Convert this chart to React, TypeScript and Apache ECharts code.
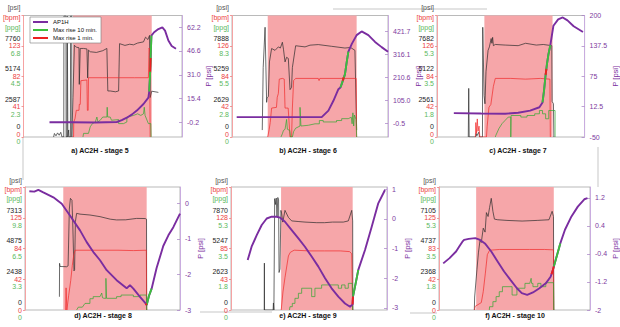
import React, { useEffect, useRef } from 'react';
import * as echarts from 'echarts';

// ---------- Stage 5 (a) ----------
const stage5Window = [31.2, 80.9];
const stage5Pressure = [[19,0],[19.5,300],[20.5,100],[21.5,350],[22.5,150],[23.5,400],[24.3,0],[25.4,0],[25.5,10300],[26.8,10300],[26.9,0],[27.5,0],[27.6,10300],[28,0],[28.5,600],[28.7,0],[29.6,0],[29.7,10300],[30.4,10300],[30.5,0],[30.8,0],[31.2,3360],[32.1,7815],[33.3,7650],[35,7600],[35.2,4480],[35.8,7540],[37.9,7540],[40,7500],[40.5,5030],[41,7400],[42.1,7260],[46,7200],[50,7350],[52.6,7540],[53.2,3920],[54.7,3920],[58,3850],[60,3920],[60.6,7950],[64,7800],[67,7900],[69.4,7850],[72,8000],[75.7,8100],[77,8500],[78.5,8300],[79.5,8650],[79.9,3360],[80.9,3900],[85.1,3800]];
const stage5Rate = [[31,0],[31.6,0],[31.7,20],[32.5,25],[33.3,36],[35,36],[35.2,44],[35.8,44],[36.2,76],[40,77],[40.3,36],[40.8,36],[41,80],[50,80],[60,80],[70,80],[78.8,80],[79.2,120],[79.6,118],[79.9,0]];
const stage5Conc = [[37.5,0],[37.9,0.27],[41,0.27],[42.1,0.76],[43.5,1.0],[45.3,1.12],[46.3,1.49],[47,1.12],[48.4,1.25],[50,1.49],[52.6,1.49],[52.8,2.22],[53.1,1.49],[54.7,1.49],[55.5,1.25],[60,1.3],[60,1.0],[63.1,1.0],[65.2,1.12],[65.2,1.49],[69.4,1.61],[72,1.73],[74,1.61],[75.7,1.73],[76.2,2.22],[76.7,1.61],[78.8,1.0],[80.3,1.0],[80.5,0]];
const stage5AP1H = [[16.4,-0.2],[30,-0.2],[45,-0.3],[58.9,0],[62,1.2],[65.2,2.8],[68.5,5],[71.5,7.5],[75.7,11.8],[78.8,16],[79.3,20],[79.8,30],[80.3,45],[80.7,56.7],[82.4,58.9],[85.1,61],[87.6,62.1],[89.3,60],[91.4,53.5],[93.5,49.9],[96.2,48.1]];
const stage5Rise10 = [[79.3,20],[79.8,30],[80.3,45],[80.7,56.7]];
const stage5Rise1 = [[79.9,33],[80.2,42]];
const stage5PsiTicks = ['0','2587','5174','7760'];
const stage5BpmTicks = ['0','41','82','123'];
const stage5PpgTicks = ['0','2.3','4.5','6.8'];
const stage5PTicks = ['-0.2','15.4','31.0','46.6','62.2'];
const stage5PRange = [-9.85, 69.9];

// ---------- Stage 6 (b) ----------
const stage6Window = [22.9, 79.9];
const stage6Pressure = [[19.4,600],[20,6000],[21.2,9500],[22.2,3000],[22.5,3400],[23.3,3500],[24,6500],[25.4,7660],[27.6,7500],[29.7,7800],[31,7700],[32.3,8200],[33,7600],[34,6500],[35,6900],[36.1,6800],[37.2,4100],[38.2,4300],[38.7,6000],[40.8,7900],[46.8,7800],[50,7950],[55.3,8000],[63.9,7850],[72.4,7700],[76,7750],[78.8,7500],[79.9,600]];
const stage6Rate = [[22.9,0],[23.8,10],[24.5,20],[25.4,40],[28.5,41],[29,55],[29.7,60],[30.3,80],[32.3,81],[33.5,80],[34,40],[36,40],[37.2,0],[38.2,0],[38.7,40],[39.5,78],[40.8,81],[55.3,81],[55.8,78],[56.3,81],[79.6,81],[79.9,0]];
const stage6Conc = [[31.4,0],[32.3,0.3],[33,0.6],[34,0.7],[35,1.6],[35.5,0.7],[37,0.6],[37.5,0],[38.7,0],[39.5,0.5],[40.8,0.8],[43.6,1.0],[43.6,2.7],[44.2,1.0],[49,1.07],[53.2,1.2],[56,1.2],[56,1.5],[58.5,1.5],[58.5,1.37],[67,1.37],[67,1.5],[70.3,1.5],[70.3,1.67],[74.5,1.67],[76.5,1.8],[77,1.2],[77.5,2.2],[78,1.0],[78.5,2.0],[79.5,1.6],[79.9,0]];
const stage6AP1H = [[3,29],[57.5,29],[61.8,59],[65,104],[68.2,157],[69.5,165],[70.3,180],[71.2,200],[72.4,225],[73.5,280],[74.6,329],[76.8,365],[79.9,405],[83.1,422],[87.4,405],[91.7,374],[95.9,350],[100,329]];
const stage6Rise10 = [[69.5,165],[70.3,180],[71.2,200],[72.4,225],[73.5,280],[74.6,329]];
const stage6Rise1 = [[71.0,196],[71.6,212]];
const stage6PsiTicks = ['0','2629','5259','7888'];
const stage6BpmTicks = ['0','42','84','126'];
const stage6PpgTicks = ['0','2.8','5.5','8.3'];
const stage6PTicks = ['-0.5','105.0','210.6','316.1','421.7'];
const stage6PRange = [-62, 495];

// ---------- Stage 7 (c) ----------
const stage7Window = [32.1, 78.3];
const stage7Pressure = [[21.2,0],[21.5,4100],[21.8,0],[26.2,0],[26.5,300],[27,100],[28.3,400],[28.8,0],[30.8,0],[31,9250],[31.9,3500],[32.5,2800],[33.2,5500],[34.6,7300],[35.5,7600],[36.7,8300],[37.2,7900],[37.7,8400],[38.2,7700],[39.5,7800],[46.2,7750],[55,7700],[60,7900],[67.3,7750],[72,7800],[77.8,7700],[78,3000],[78.9,2800],[79.2,0]];
const stage7Rate = [[26,0],[26.3,20],[26.8,5],[27.3,25],[27.8,8],[28.5,15],[29,0],[33.5,0],[34,15],[35.2,41],[36.5,45],[38.2,70],[39.5,81],[50,81],[60,80],[70,81],[76.5,80],[76.8,0]];
const stage7Conc = [[39.5,0],[39.9,0.1],[42,0.5],[44.1,0.78],[46.2,0.97],[48.3,1.16],[50,1.16],[50,0],[50.2,1.25],[56.8,1.25],[56.8,1.16],[61,1.16],[61,1.25],[66.2,1.25],[66.2,1.35],[69.4,1.35],[69.4,1.54],[71.5,1.54],[71.5,1.35],[73.6,1.35],[73.6,1.06],[75.7,1.06],[75.7,1.54],[80,1.54],[80,0]];
const stage7AP1H = [[11.4,-0.9],[30,-1.8],[46.2,-2.3],[55,0],[63.1,4.4],[69.4,11.2],[71.5,21],[72.5,45],[73.5,75],[74.5,100],[75.5,120],[76.8,139],[78.9,179],[82.1,192],[85.2,196],[88.4,190],[92.6,178],[98.9,166]];
const stage7Rise10 = [[71.5,21],[72.5,45],[73.5,75],[74.5,100],[75.5,120],[76.8,139]];
const stage7Rise1 = [[73.6,78],[74.1,90]];
const stage7PsiTicks = ['0','2561','5122','7682'];
const stage7BpmTicks = ['0','42','84','126'];
const stage7PpgTicks = ['0','1.8','3.5','5.3'];
const stage7PTicks = ['-50','12.5','75','137.5','200'];
const stage7PRange = [-50, 200];

// ---------- Stage 8 (d) ----------
const stage8Window = [24.7, 78.5];
const stage8Pressure = [[22.2,1050],[22.3,3700],[22.6,3450],[26.9,3430],[27.8,3500],[28.6,8000],[29.3,8850],[30.3,8700],[30.8,6900],[31.6,3100],[32,3200],[32.5,7000],[33.3,7660],[35.5,7600],[41.9,7530],[48.4,7400],[55,7200],[59.1,7140],[65,7150],[72,7260],[77.5,7250],[78.4,7200],[78.5,0]];
const stage8Rate = [[26.2,0],[26.5,30],[27,0],[28.2,20],[29.5,40],[30.5,60],[31.5,75],[32.3,81],[40,81],[60,81],[70,80.5],[78.3,81],[78.5,0]];
const stage8Conc = [[33.3,0],[34.4,0.3],[37,0.3],[38.7,0.7],[41.9,0.7],[41.9,1.2],[44,1.2],[44,1.42],[48.4,1.42],[49.5,1.8],[50,1.3],[51,1.24],[52.2,1.24],[52.2,3.36],[52.6,1.24],[59.1,1.24],[59.1,1.42],[62,1.42],[62,1.59],[69.9,1.59],[69.9,1.42],[74.2,1.42],[74.2,1.59],[78.3,1.59],[78.5,0]];
const stage8AP1H = [[2.8,0.34],[6,0.33],[8.6,0.38],[11.8,0.31],[18.3,0.17],[23.7,-0.01],[29,-0.34],[35.5,-0.76],[39.8,-1.09],[44.1,-1.37],[48.4,-1.6],[52.7,-1.88],[59.1,-2.16],[65.6,-2.39],[67.7,-2.3],[69.9,-2.4],[74.2,-2.63],[78.1,-2.83],[78.5,-2.86],[80,-2.6],[81.7,-2.4],[84.9,-1.82],[89.2,-1.2],[92.5,-0.9],[95.7,-0.67],[100,-0.29]];
const stage8Rise10 = [[78.5,-2.86],[80,-2.6],[81.7,-2.4]];
const stage8Rise1 = [[77.8,-2.82],[78.5,-2.86]];
const stage8PsiTicks = ['0','2438','4875','7313'];
const stage8BpmTicks = ['0','42','84','125'];
const stage8PpgTicks = ['0','3.3','6.5','9.8'];
const stage8PTicks = ['-3','-2','-1','0'];
const stage8PRange = [-3, 0.46];

// ---------- Stage 9 (e) ----------
const stage9Window = [32.1, 78];
const stage9Pressure = [[21.3,0],[21.4,4000],[21.5,0],[27,0],[27.2,600],[27.5,0],[27.8,0],[28,9500],[28.5,9000],[29,9550],[29.5,8000],[30,9600],[30.5,9400],[30.8,3200],[31.4,3500],[32,8500],[32.5,8200],[33.2,7500],[34.6,8500],[36.8,7900],[38.9,7600],[43,7550],[47.4,7500],[55,7450],[60,7450],[65,7500],[72,7500],[75.2,7600],[77.4,8500],[78,7600],[78.1,0]];
const stage9Rate = [[32.2,0],[33.3,25],[34.6,45],[36.8,75],[38,80],[40.5,83],[50,82],[60,82],[70,82],[76,81],[77.4,78],[78,0]];
const stage9Conc = [[37.5,0],[37.8,0.19],[39.3,0.19],[39.3,0.38],[41,0.38],[41,0.67],[43.2,0.67],[43.2,0.96],[45.3,0.96],[45.3,1.25],[51.7,1.25],[51.7,0.77],[53.8,0.77],[53.8,1.25],[58.1,1.25],[58.1,1.44],[68.8,1.44],[68.8,1.25],[70.9,1.25],[70.9,1.44],[73.1,1.44],[73.1,1.25],[75.2,1.25],[75.2,1.53],[77.8,1.53],[78,0]];
const stage9AP1H = [[10.7,-1.39],[13.2,-0.94],[16.5,-0.55],[19.7,-0.21],[22.9,0.01],[26.1,0.07],[29.3,0.07],[31.4,0.04],[34.6,-0.1],[38.9,-0.38],[43.2,-0.66],[47.4,-0.94],[51.7,-1.27],[56,-1.61],[60.3,-2.0],[64.5,-2.34],[68.8,-2.62],[73.1,-2.85],[76.3,-2.96],[77.9,-2.88],[78.2,-2.62],[80,-2.15],[81.6,-1.72],[85.9,-1.05],[90.2,-0.27],[94.4,0.52],[98.7,0.97]];
const stage9Rise10 = [[78.2,-2.62],[80,-2.15],[81.6,-1.72]];
const stage9Rise1 = [[77.9,-2.88],[78.2,-2.62]];
const stage9PsiTicks = ['0','2623','5247','7870'];
const stage9BpmTicks = ['0','43','85','128'];
const stage9PpgTicks = ['0','1.8','3.5','5.3'];
const stage9PTicks = ['-3','-2','-1','0','1'];
const stage9PRange = [-3.07, 1.07];

// ---------- Stage 10 (f) ----------
const stage10Window = [24.6, 76];
const stage10Pressure = [[23.4,0],[23.6,1000],[25.1,3100],[26.1,4400],[27.2,5400],[28,5200],[29.3,6300],[30.5,6000],[31.4,7500],[32.5,7200],[33.5,7900],[34.6,8600],[35.7,7600],[36.7,7000],[38.9,6950],[45,6900],[55,6850],[65,6900],[72.8,6950],[74.9,7600],[75.8,7200],[76,0]];
const stage10Rate = [[23.5,0],[24,5],[28,10],[29.3,25],[30.7,50],[32,75],[33.5,81],[40,82],[60,82],[70,82],[75.8,81.5],[76,0]];
const stage10Conc = [[33.3,0],[33.5,0.19],[35.7,0.19],[35.7,0.48],[37.8,0.48],[37.8,0.77],[39.9,0.77],[39.9,1.05],[42,1.05],[42,1.34],[48.4,1.34],[48.4,0.86],[51.6,0.86],[51.6,1.25],[56.9,1.25],[56.9,1.53],[60.1,1.53],[61,1.82],[61.3,1.53],[62.2,1.53],[62.2,1.34],[65.4,1.34],[65.4,1.53],[67.5,1.53],[67.5,1.34],[70.7,1.34],[70.7,1.57],[75.8,1.57],[76,0]];
const stage10AP1H = [[2.8,-0.67],[7,-0.52],[11.3,-0.33],[13.4,-0.19],[15.5,-0.05],[16.6,0],[19.7,0.03],[24,0.05],[27.2,0],[30.4,-0.1],[34.6,-0.33],[38.9,-0.62],[43.1,-0.9],[47.3,-1.14],[51.6,-1.38],[54.8,-1.52],[58.4,-1.57],[62.2,-1.5],[66.5,-1.38],[70.7,-1.24],[73.9,-1.05],[75.4,-0.86],[76.6,-0.67],[78.5,-0.38],[80.3,-0.1],[83.4,0.29],[87.7,0.67],[91.9,0.95],[96.2,1.16],[98.3,1.19]];
const stage10Rise10 = [[76,-0.76],[76.6,-0.67],[78.5,-0.38],[80.3,-0.1]];
const stage10Rise1 = [[74.5,-0.98],[75.4,-0.86],[76,-0.76]];
const stage10PsiTicks = ['0','2368','4737','7105'];
const stage10BpmTicks = ['0','42','83','125'];
const stage10PpgTicks = ['0','1.8','3.5','5.3'];
const stage10PTicks = ['-2','-1.2','-0.4','0.4','1.2'];
const stage10PRange = [-2, 1.51];

const FONT = '"Liberation Sans", Arial, Helvetica, sans-serif';
const PURPLE = '#7a2da0';
const PINK = '#f6a6a9';

const panels = [
  { title: 'a) AC2H - stage 5', row: 0, grid: { left: 23, top: 13, width: 159, height: 124 }, tx: 100, ty: 150,
    win: stage5Window, psi: stage5Pressure, bpm: stage5Rate, ppg: stage5Conc, p: stage5AP1H, r10: stage5Rise10, r1: stage5Rise1,
    psiT: stage5PsiTicks, bpmT: stage5BpmTicks, ppgT: stage5PpgTicks, pT: stage5PTicks, pR: stage5PRange },
  { title: 'b) AC2H - stage 6', row: 0, grid: { left: 232, top: 13, width: 156, height: 124 }, tx: 308, ty: 150,
    win: stage6Window, psi: stage6Pressure, bpm: stage6Rate, ppg: stage6Conc, p: stage6AP1H, r10: stage6Rise10, r1: stage6Rise1,
    psiT: stage6PsiTicks, bpmT: stage6BpmTicks, ppgT: stage6PpgTicks, pT: stage6PTicks, pR: stage6PRange },
  { title: 'c) AC2H - stage 7', row: 0, grid: { left: 437, top: 13, width: 158, height: 124 }, tx: 518, ty: 150,
    win: stage7Window, psi: stage7Pressure, bpm: stage7Rate, ppg: stage7Conc, p: stage7AP1H, r10: stage7Rise10, r1: stage7Rise1,
    psiT: stage7PsiTicks, bpmT: stage7BpmTicks, ppgT: stage7PpgTicks, pT: stage7PTicks, pR: stage7PRange },
  { title: 'd) AC2H - stage 8', row: 1, grid: { left: 25, top: 187, width: 155, height: 123 }, tx: 103, ty: 315,
    win: stage8Window, psi: stage8Pressure, bpm: stage8Rate, ppg: stage8Conc, p: stage8AP1H, r10: stage8Rise10, r1: stage8Rise1,
    psiT: stage8PsiTicks, bpmT: stage8BpmTicks, ppgT: stage8PpgTicks, pT: stage8PTicks, pR: stage8PRange },
  { title: 'e) AC2H - stage 9', row: 1, grid: { left: 231, top: 187, width: 156, height: 123 }, tx: 308, ty: 315,
    win: stage9Window, psi: stage9Pressure, bpm: stage9Rate, ppg: stage9Conc, p: stage9AP1H, r10: stage9Rise10, r1: stage9Rise1,
    psiT: stage9PsiTicks, bpmT: stage9BpmTicks, ppgT: stage9PpgTicks, pT: stage9PTicks, pR: stage9PRange },
  { title: 'f) AC2H - stage 10', row: 1, grid: { left: 439, top: 187, width: 157, height: 123 }, tx: 515, ty: 315,
    win: stage10Window, psi: stage10Pressure, bpm: stage10Rate, ppg: stage10Conc, p: stage10AP1H, r10: stage10Rise10, r1: stage10Rise1,
    psiT: stage10PsiTicks, bpmT: stage10BpmTicks, ppgT: stage10PpgTicks, pT: stage10PTicks, pR: stage10PRange },
];

function buildOption() {
  const grid: any[] = [];
  const xAxis: any[] = [];
  const yAxis: any[] = [];
  const series: any[] = [];
  const graphic: any[] = [];

  panels.forEach((pn, gi) => {
    grid.push({ ...pn.grid, show: true, borderColor: '#9c9c9c', borderWidth: 0.7, backgroundColor: 'transparent' });
    xAxis.push({ gridIndex: gi, type: 'value', min: 0, max: 100, show: false });
    const bpmMax = Number(pn.bpmT[3]) * 4 / 3;
    const bpmStep = bpmMax / 4;
    const psiMax = Number(pn.psiT[3]) * 4 / 3;
    const ppgMax = Number(pn.ppgT[3]) * 4 / 3;
    const base = gi * 4;
    const hdrLH = pn.row === 0 ? 10 : 9;
    yAxis.push({
      gridIndex: gi, type: 'value', position: 'left', min: 0, max: bpmMax, interval: bpmStep,
      axisLine: { show: true, lineStyle: { color: '#f5a3a3', width: 1 } },
      axisTick: { show: true, length: 2, lineStyle: { color: '#ee7070', width: 0.7 } },
      splitLine: { show: false },
      axisLabel: {
        show: true, margin: 3, showMinLabel: true, showMaxLabel: true,
        formatter: (v: number) => {
          const i = Math.round(v / bpmStep);
          if (i >= 4) return '{sp| }\n{kh|[psi]}\n{rh|[bpm]}\n{gh|[ppg]}';
          const body = `{k|${pn.psiT[i]}}\n{r|${pn.bpmT[i]}}\n{g|${pn.ppgT[i]}}`;
          return i === 0 && pn.row === 0 ? body + '\n{sb| }' : body;
        },
        rich: {
          k: { color: '#1e1e1e', fontSize: 7, lineHeight: 7.6, fontFamily: FONT, align: 'right' },
          r: { color: '#ec3e3e', fontSize: 7, lineHeight: 7.6, fontFamily: FONT, align: 'right' },
          g: { color: '#5cb85c', fontSize: 7, lineHeight: 7.6, fontFamily: FONT, align: 'right' },
          kh: { color: '#555', fontSize: 7, lineHeight: hdrLH, fontFamily: FONT, align: 'right' },
          rh: { color: '#ec3e3e', fontSize: 7, lineHeight: hdrLH, fontFamily: FONT, align: 'right' },
          gh: { color: '#5cb85c', fontSize: 7, lineHeight: hdrLH, fontFamily: FONT, align: 'right' },
          sp: { fontSize: 1, lineHeight: 4 },
          sb: { fontSize: 1, lineHeight: 6 },
        },
      },
    });
    yAxis.push({ gridIndex: gi, type: 'value', min: 0, max: psiMax, show: false });
    yAxis.push({ gridIndex: gi, type: 'value', min: 0, max: ppgMax, show: false });
    const pVals = pn.pT.map(Number);
    yAxis.push({
      gridIndex: gi, type: 'value', position: 'right', min: pn.pR[0], max: pn.pR[1],
      name: 'P [psi]', nameLocation: 'middle', nameRotate: 90, nameGap: 16,
      nameTextStyle: { color: PURPLE, fontSize: 7.5, fontFamily: FONT },
      axisLine: { show: true, lineStyle: { color: '#c9acdf', width: 1 } },
      axisTick: { show: true, inside: true, length: 3, customValues: pVals, lineStyle: { color: '#a57cc4', width: 0.7 } },
      splitLine: { show: false },
      axisLabel: {
        show: true, margin: 5, customValues: pVals, color: '#7d3a9e', fontSize: 7, fontFamily: FONT,
        formatter: (v: number) => {
          let best = 0;
          pVals.forEach((pv, k) => { if (Math.abs(pv - v) < Math.abs(pVals[best] - v)) best = k; });
          return pn.pT[best];
        },
      },
    });

    series.push({
      type: 'line', name: 'psi' + gi, xAxisIndex: gi, yAxisIndex: base + 1, data: pn.psi, symbol: 'none',
      lineStyle: { color: '#2b2b2b', width: 0.7 }, silent: true,
      markArea: { silent: true, itemStyle: { color: PINK }, data: [[{ xAxis: pn.win[0] }, { xAxis: pn.win[1] }]] },
    });
    series.push({ type: 'line', name: 'bpm' + gi, xAxisIndex: gi, yAxisIndex: base, data: pn.bpm, symbol: 'none', lineStyle: { color: '#f02a2a', width: 0.7 }, silent: true });
    series.push({ type: 'line', name: 'ppg' + gi, xAxisIndex: gi, yAxisIndex: base + 2, data: pn.ppg, symbol: 'none', lineStyle: { color: '#30a830', width: 0.7 }, silent: true });
    series.push({ type: 'line', name: 'AP1H', xAxisIndex: gi, yAxisIndex: base + 3, data: pn.p, symbol: 'none', lineStyle: { color: PURPLE, width: 1.9 }, itemStyle: { color: PURPLE }, silent: true });
    series.push({ type: 'line', name: 'Max rise 10 min.', xAxisIndex: gi, yAxisIndex: base + 3, data: pn.r10, symbol: 'none', lineStyle: { color: '#3cbf3c', width: 1.9 }, itemStyle: { color: '#3cbf3c' }, silent: true });
    series.push({ type: 'line', name: 'Max rise 1 min.', xAxisIndex: gi, yAxisIndex: base + 3, data: pn.r1, symbol: 'none', lineStyle: { color: '#ec2020', width: 1.9 }, itemStyle: { color: '#ec2020' }, silent: true });

    graphic.push({
      type: 'text', x: pn.tx, y: pn.ty,
      style: { text: pn.title, fontSize: 7, fontWeight: 'bold', fontFamily: FONT, fill: '#111', align: 'center', verticalAlign: 'middle', textAlign: 'center', textVerticalAlign: 'middle' },
    });
  });

  const stroke = { stroke: '#b0b0b0', lineWidth: 0.7 };
  graphic.push({ type: 'line', shape: { x1: 23, y1: 137, x2: 23, y2: 180 }, style: stroke });
  graphic.push({ type: 'line', shape: { x1: 333, y1: 9, x2: 487, y2: 9 }, style: stroke });
  graphic.push({ type: 'line', shape: { x1: 598, y1: 147, x2: 598, y2: 187 }, style: stroke });
  graphic.push({ type: 'line', shape: { x1: 200, y1: 312, x2: 272, y2: 312 }, style: stroke });
  graphic.push({ type: 'line', shape: { x1: 410, y1: 313, x2: 437, y2: 313 }, style: stroke });

  return {
    animation: false,
    backgroundColor: '#ffffff',
    grid, xAxis, yAxis, series, graphic,
    legend: {
      data: ['AP1H', 'Max rise 10 min.', 'Max rise 1 min.'],
      orient: 'vertical', left: 30, top: 17, icon: 'rect', itemWidth: 15, itemHeight: 2, itemGap: 2,
      textStyle: { fontSize: 6, fontFamily: FONT, color: '#111' },
      backgroundColor: '#ffffff', borderColor: '#7a7a7a', borderWidth: 0.6, padding: [2, 4, 2, 3],
      selectedMode: false,
    },
  };
}

export default function App() {
  const ref = useRef<HTMLDivElement>(null);
  useEffect(() => {
    if (!ref.current) return;
    const chart = echarts.init(ref.current, null, { renderer: 'svg' });
    chart.setOption(buildOption() as any);
    return () => chart.dispose();
  }, []);
  return <div ref={ref} style={{ position: 'fixed', left: 0, top: 0, width: 620, height: 327, background: '#fff' }} />;
}
